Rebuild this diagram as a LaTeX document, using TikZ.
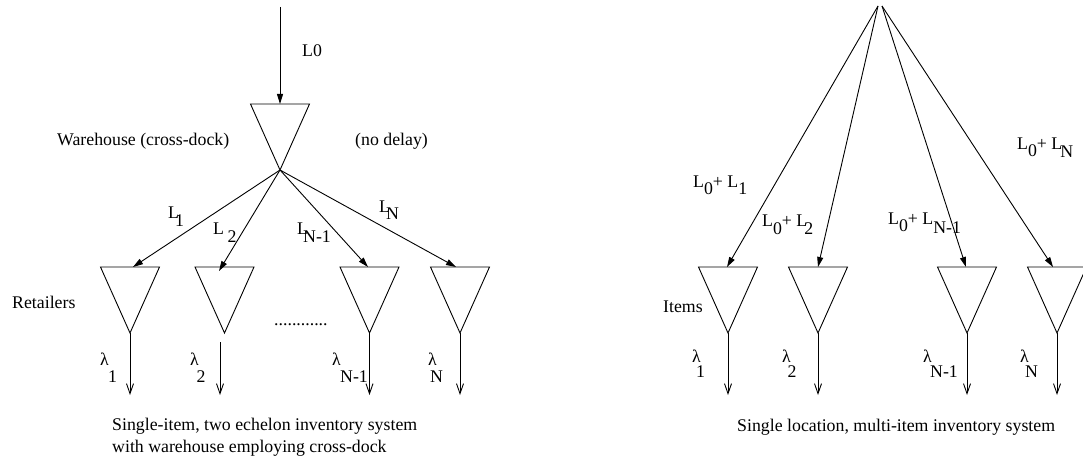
\documentclass[tikz,border=0pt]{standalone}
\usepackage{fontspec}
\setmainfont{Liberation Serif}
\usetikzlibrary{arrows.meta}
\newcommand\lsubx[4]{\rlap{#1}\kern#2pt\raisebox{-#3pt}{#4}}
\tikzset{
  thinline/.style={line width=0.9pt},
  fill arrow/.style={thinline, -{Triangle[length=10pt,width=6pt]}},
  open arrow/.style={thinline, -{Straight Barb[length=10pt,width=7pt]}},
  invtri/.pic={
    \draw[thinline] (-29.5,0) -- (29.5,0) -- (0,66) -- cycle;
    \coordinate (-top) at (0,0);
    \coordinate (-apex) at (0,66);
  }
}
\begin{document}
\begin{tikzpicture}[x=1pt,y=-1pt,
  every node/.style={font=\fontsize{17.8}{22}\selectfont, inner sep=0pt, anchor=base west}]
\useasboundingbox (0,0) rectangle (1083,462);

% ---------- left diagram ----------
\coordinate (lsrc) at (280,7);
\pic (wh) at (280,104) {invtri};
\draw[fill arrow] (lsrc) -- (wh-top);

\pic (r1) at (130,267) {invtri};
\pic (r2) at (224.5,267) {invtri};
\pic (r3) at (369.5,267) {invtri};
\pic (r4) at (460,267) {invtri};

\draw[fill arrow] (wh-apex) -- ([xshift=3pt]r1-top);
\draw[fill arrow] (wh-apex) -- ([xshift=-5.5pt,yshift=-4pt]r2-top);
\draw[fill arrow] (wh-apex) -- ([xshift=-1.5pt]r3-top);
\draw[fill arrow] (wh-apex) -- ([xshift=-4pt]r4-top);

\coordinate (r1e) at (130,395);
\coordinate (r2s) at (220,342);
\coordinate (r2e) at (220,395);
\coordinate (r3e) at (369.5,395);
\coordinate (r4e) at (460,395);
\draw[open arrow] (r1-apex) -- (r1e);
\draw[open arrow] (r2s) -- (r2e);
\draw[open arrow] (r3-apex) -- (r3e);
\draw[open arrow] (r4-apex) -- (r4e);

\node (l0) at (302,57) {L0};
\node (whl) at (57,146) {Warehouse (cross-dock)};
\node (nodl) at (355,146) {(no delay)};
\node (ll1) at (168,219) {\lsubx{L}{7}{7}{1}};
\node (ll2) at (213,235) {\lsubx{L}{14.5}{8}{2}};
\node (ll3) at (297,235) {\lsubx{L}{6}{8}{N-1}};
\node (ll4) at (379,213) {\lsubx{L}{7}{7}{N}};
\node (ret) at (12,308) {Retailers};
\node (dots) at (274,325) {............};
\node (lam1) at (100,365) {\lsubx{λ}{8}{17}{1}};
\node (lam2) at (190,365) {\lsubx{λ}{6.5}{17}{2}};
\node (lam3) at (332,365) {\lsubx{λ}{8}{17}{N-1}};
\node (lam4) at (428,365) {\lsubx{λ}{2}{17}{N}};
\node (capa) at (112,430) {Single-item, two echelon inventory system};
\node (capb) at (112,452) {with warehouse employing cross-dock};

% ---------- right diagram ----------
\coordinate (rsa) at (878,6);
\coordinate (rsb) at (882,6);
\pic (i1) at (728,267) {invtri};
\pic (i2) at (818,267) {invtri};
\pic (i3) at (967,267) {invtri};
\pic (i4) at (1057,267) {invtri};

\draw[fill arrow] (rsa) -- ([xshift=-1pt]i1-top);
\draw[fill arrow] (rsa) -- (i2-top);
\draw[fill arrow] (rsb) -- ([xshift=-1pt]i3-top);
\draw[fill arrow] (rsb) -- ([xshift=-4pt]i4-top);

\coordinate (i1e) at (728,395);
\coordinate (i2e) at (818,395);
\coordinate (i3e) at (967,395);
\coordinate (i4e) at (1057,395);
\draw[open arrow] (i1-apex) -- (i1e);
\draw[open arrow] (i2-apex) -- (i2e);
\draw[open arrow] (i3-apex) -- (i3e);
\draw[open arrow] (i4-apex) -- (i4e);

\node (m1) at (693,188) {L\raisebox{-7pt}{0}+ L\raisebox{-7pt}{1}};
\node (m2) at (762,227) {L\raisebox{-8pt}{0}+ L\kern-3pt\raisebox{-8pt}{2}};
\node (m3) at (888,225) {L\raisebox{-7pt}{0}+ L\raisebox{-9pt}{N-1}};
\node (m4) at (1017,150) {L\raisebox{-7pt}{0}+ L\kern-2pt\raisebox{-8pt}{N}};
\node (items) at (663,312) {Items};
\node (k1) at (692,362) {\lsubx{λ}{4}{15}{1}};
\node (k2) at (782,362) {\lsubx{λ}{5.5}{15}{2}};
\node (k3) at (923,362) {\lsubx{λ}{7}{15}{N-1}};
\node (k4) at (1020,362) {\lsubx{λ}{5}{15}{N}};
\node (capc) at (737,431) {Single location, multi-item inventory system};
\end{tikzpicture}
\end{document}
